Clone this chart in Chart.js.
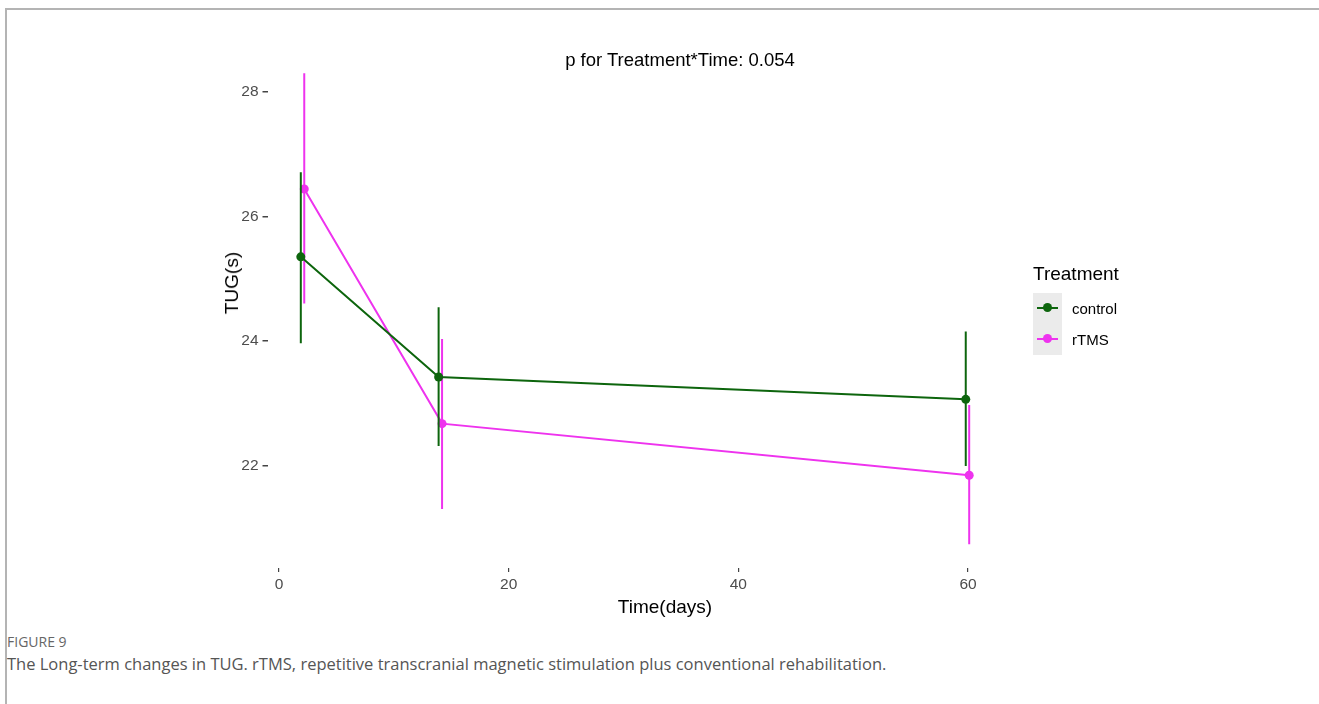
<!DOCTYPE html>
<html>
<head>
<meta charset="utf-8">
<script src="https://cdn.jsdelivr.net/npm/chart.js@4/dist/chart.umd.min.js"></script>
<style>
    body { margin: 0; background: #fff; width: 1319px; height: 704px; overflow: hidden; position: relative; font-family: "Liberation Sans", Arial, sans-serif; }
    #frame { position: absolute; left: 5px; top: 8px; width: 1400px; height: 800px; border-top: 2px solid #b4b4b4; border-left: 2px solid #b4b4b4; }
    #chartBox { position: absolute; left: 0; top: 0; width: 1319px; height: 620px; }
    .txt { position: absolute; white-space: nowrap; color: #000; }
    #plotTitle { left: 680px; top: 60px; font-size: 18.5px; transform: translate(-50%, -50%); }
    #xTitle { left: 665px; top: 607px; font-size: 19px; transform: translate(-50%, -50%); }
    #yTitle { left: 232px; top: 283px; font-size: 19px; transform: translate(-50%, -50%) rotate(-90deg); }
    #legend { position: absolute; left: 1033px; top: 263px; }
    #legendTitle { font-size: 19px; margin-bottom: 8px; }
    .legendRow { display: flex; align-items: center; height: 31px; }
    .legendKey { width: 29px; height: 31px; background: #ebebeb; position: relative; }
    .legendKey .ln { position: absolute; left: 4px; right: 4px; top: 14px; height: 2px; }
    .legendKey .pt { position: absolute; left: 10px; top: 10px; width: 9px; height: 9px; border-radius: 50%; }
    .legendLabel { font-size: 15px; margin-left: 10px; }
    #figLabel { left: 7px; top: 632px; font-family: "Open Sans", sans-serif; font-size: 14px; color: #666; }
    #caption { left: 7px; top: 652px; font-family: "Open Sans", sans-serif; font-size: 16.5px; color: #555; }
</style>
</head>
<body>
<div id="frame"></div>
<div id="chartBox"><canvas id="tugChart" width="1319" height="620"></canvas></div>
<div class="txt" id="plotTitle">p for Treatment*Time: 0.054</div>
<div class="txt" id="xTitle">Time(days)</div>
<div class="txt" id="yTitle">TUG(s)</div>
<div id="legend"><div id="legendTitle">Treatment</div><div id="legendRows"></div></div>
<div class="txt" id="figLabel">FIGURE 9</div>
<div class="txt" id="caption">The Long-term changes in TUG. rTMS, repetitive transcranial magnetic stimulation plus conventional rehabilitation.</div>

<script>
// --- DATA ---
const groups = ["control", "rTMS"];
const groupColors = ["#0d650d", "#ee33ee"];

const controlDays = [1.9, 13.9, 59.8];
const controlMean = [25.35, 23.42, 23.06];
const controlLow = [23.96, 22.31, 21.99];
const controlHigh = [26.71, 24.54, 24.15];

const rtmsDays = [2.2, 14.2, 60.1];
const rtmsMean = [26.44, 22.67, 21.84];
const rtmsLow = [24.60, 21.30, 20.73];
const rtmsHigh = [28.30, 24.03, 22.97];

const xTicks = [0, 20, 40, 60];
const yTicks = [22, 24, 26, 28];

// --- HELPERS ---
function toPoints(days, values) {
    return days.map((d, i) => ({ x: d, y: values[i] }));
}

// vertical segments separated by gaps
function toErrorBars(days, low, high) {
    const pts = [];
    days.forEach((d, i) => {
        pts.push({ x: d, y: low[i] });
        pts.push({ x: d, y: high[i] });
        pts.push({ x: d, y: null });
    });
    return pts;
}

function errorDataset(days, low, high, color) {
    return {
        data: toErrorBars(days, low, high),
        borderColor: color,
        borderWidth: 2,
        pointRadius: 0,
        spanGaps: false,
        fill: false
    };
}

function meanDataset(label, days, values, color) {
    return {
        label: label,
        data: toPoints(days, values),
        borderColor: color,
        backgroundColor: color,
        borderWidth: 2,
        pointRadius: 4.5,
        pointBorderWidth: 0,
        fill: false,
        tension: 0
    };
}

// --- CHART ---
const tickFont = { family: "Liberation Sans", size: 15.5 };

new Chart(document.getElementById("tugChart"), {
    type: "line",
    data: {
        datasets: [
            errorDataset(controlDays, controlLow, controlHigh, groupColors[0]),
            meanDataset(groups[0], controlDays, controlMean, groupColors[0]),
            errorDataset(rtmsDays, rtmsLow, rtmsHigh, groupColors[1]),
            meanDataset(groups[1], rtmsDays, rtmsMean, groupColors[1])
        ]
    },
    options: {
        responsive: false,
        animation: false,
        layout: { padding: { left: 0, right: 316.5, top: 49, bottom: 0 } },
        plugins: { legend: { display: false }, tooltip: { enabled: false } },
        scales: {
            x: {
                type: "linear",
                min: -1,
                max: 63,
                afterBuildTicks: scale => { scale.ticks = xTicks.map(v => ({ value: v })); },
                afterFit: scale => { scale.height = 52; },
                border: { display: false },
                grid: { drawOnChartArea: false, drawTicks: true, tickLength: 4, color: "#444", lineWidth: 1.2 },
                ticks: { color: "#4d4d4d", font: tickFont, padding: 3, maxRotation: 0 }
            },
            y: {
                type: "linear",
                min: 20.35,
                max: 28.69,
                afterBuildTicks: scale => { scale.ticks = yTicks.map(v => ({ value: v })); },
                afterFit: scale => { scale.width = 267.5; },
                border: { display: false },
                grid: { drawOnChartArea: false, drawTicks: true, tickLength: 5, color: "#444", lineWidth: 1.5 },
                ticks: { color: "#4d4d4d", font: tickFont, padding: 4 }
            }
        }
    }
});

// --- LEGEND ---
const legendRows = document.getElementById("legendRows");
groups.forEach((g, i) => {
    const row = document.createElement("div");
    row.className = "legendRow";
    row.innerHTML = `
        <div class="legendKey">
            <div class="ln" style="background:${groupColors[i]}"></div>
            <div class="pt" style="background:${groupColors[i]}"></div>
        </div>
        <div class="legendLabel">${g}</div>
    `;
    legendRows.appendChild(row);
});
</script>
</body>
</html>
